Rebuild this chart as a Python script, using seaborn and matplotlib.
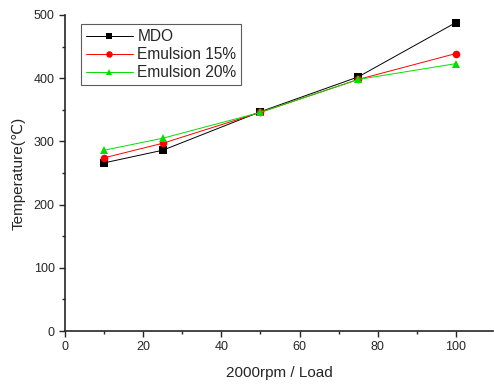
import matplotlib
matplotlib.use("Agg")
import matplotlib.pyplot as plt
import seaborn as sns
import pandas as pd
from matplotlib.ticker import MultipleLocator

load = [10, 25, 50, 75, 100]
mdo = [266, 286, 347, 402, 488]
em15 = [274, 297, 346, 398, 439]
em20 = [286, 305, 346, 398, 423]
series_names = ["MDO", "Emulsion 15%", "Emulsion 20%"]

df = pd.DataFrame({
    "Load": load * 3,
    "Temp": mdo + em15 + em20,
    "Fuel": [series_names[0]] * 5 + [series_names[1]] * 5 + [series_names[2]] * 5,
})

sns.set_style("ticks")
plt.rcParams['font.family'] = ['Liberation Sans', 'DejaVu Sans']

fig = plt.figure(figsize=(4.94, 3.84), dpi=100)
ax = fig.add_axes([0.1316, 0.138, 0.8664, 0.823])

palette = {"MDO": "black", "Emulsion 15%": "red", "Emulsion 20%": "#00e000"}
markers = {"MDO": "s", "Emulsion 15%": "o", "Emulsion 20%": "^"}
sns.lineplot(data=df, x="Load", y="Temp", hue="Fuel", style="Fuel",
             palette=palette, markers=markers, dashes=False,
             linewidth=0.7, markersize=5.5, markeredgewidth=0, ax=ax)

ax.set_xlim(0, 109.5)
ax.set_ylim(0, 500)
ax.xaxis.set_major_locator(MultipleLocator(20))
ax.xaxis.set_minor_locator(MultipleLocator(10))
ax.yaxis.set_major_locator(MultipleLocator(100))
ax.yaxis.set_minor_locator(MultipleLocator(50))
ax.tick_params(which="major", length=4, width=1, labelsize=9, direction="out")
ax.tick_params(which="minor", length=2, width=1, direction="out")
for s in ["top", "right"]:
    ax.spines[s].set_visible(False)
for s in ["left", "bottom"]:
    ax.spines[s].set_linewidth(1.2)

ax.set_xlabel("2000rpm / Load", fontsize=11, labelpad=9)
ax.set_ylabel("Temperature(℃)", fontsize=11, labelpad=6)

leg = ax.legend(title=None, loc="upper left", bbox_to_anchor=(0.02, 0.995),
                fontsize=11.2, frameon=True, fancybox=False, edgecolor="#333333",
                borderpad=0.3, labelspacing=0.2, handlelength=3.0, handletextpad=0.3,
                markerscale=0.85)
leg.get_frame().set_linewidth(0.8)

fig.savefig("out.png", dpi=100)
